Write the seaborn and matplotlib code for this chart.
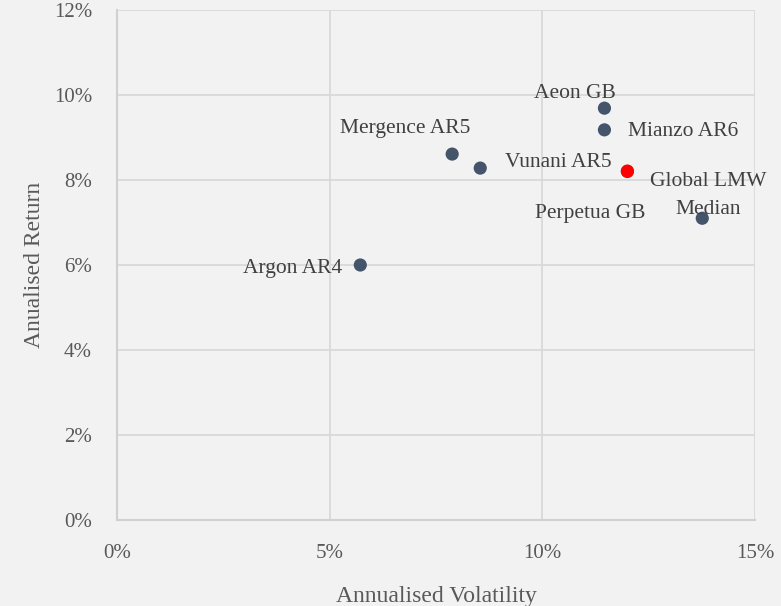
import pandas as pd
import matplotlib.pyplot as plt
import seaborn as sns
from matplotlib.ticker import PercentFormatter

# 数据：年化波动率 / 年化收益 (%)
funds = ['Argon AR4', 'Mergence AR5', 'Vunani AR5', 'Aeon GB', 'Mianzo AR6',
         'Perpetua GB', 'Median', 'Global LMW']
volatility = [5.72, 7.88, 8.54, 11.46, 11.46, 12.0, 13.76, 12.0]
returns = [6.0, 8.61, 8.28, 9.69, 9.18, 8.2, 7.1, 8.21]
group = ['peer', 'peer', 'peer', 'peer', 'peer', 'peer', 'peer', 'fund']

# 标签偏移（像素）
label_dx = [-68, -47, 78, -30, 79, -37, 6, 81]
label_dy = [-4, 26, 6, 15, -2, -42, 9, -10]

df = pd.DataFrame({'fund': funds, 'vol': volatility, 'ret': returns, 'group': group})

sns.set_style('white')
plt.rcParams['font.family'] = ['Liberation Serif', 'DejaVu Serif']

fig = plt.figure(figsize=(7.81, 6.06), dpi=100, facecolor='#f2f2f2')
ax = fig.add_axes([117 / 781, 86 / 606, 638 / 781, 510 / 606])
ax.set_facecolor('#f2f2f2')

sns.scatterplot(data=df, x='vol', y='ret', hue='group',
                palette={'peer': '#44546a', 'fund': '#ff0000'},
                s=90, edgecolor='none', legend=False, ax=ax, zorder=3)

for name, x, y, dx, dy in zip(funds, volatility, returns, label_dx, label_dy):
    ax.annotate(name, (x, y), xytext=(dx, dy), textcoords='offset pixels',
                ha='center', va='center', fontsize=15.5, color='#404040')

ax.set_xlim(0, 15)
ax.set_ylim(0, 12)
ax.set_xticks([0, 5, 10, 15])
ax.set_yticks(range(0, 13, 2))
ax.xaxis.set_major_formatter(PercentFormatter(decimals=0))
ax.yaxis.set_major_formatter(PercentFormatter(decimals=0))
ax.grid(True, color='#d9d9d9', linewidth=1.3)
ax.set_axisbelow(True)
for side in ['top', 'right']:
    ax.spines[side].set_visible(False)
for side in ['left', 'bottom']:
    ax.spines[side].set_color('#d0d0d0')
    ax.spines[side].set_linewidth(1.5)

ax.tick_params(axis='both', length=0, labelsize=15, labelcolor='#595959')
ax.tick_params(axis='x', pad=17)
ax.tick_params(axis='y', pad=18)
ax.set_xlabel('Annualised Volatility', fontsize=17, color='#595959', labelpad=17)
ax.set_ylabel('Anualised Return', fontsize=17, color='#595959', labelpad=6)

plt.savefig('out.png', dpi=100, facecolor='#f2f2f2')
